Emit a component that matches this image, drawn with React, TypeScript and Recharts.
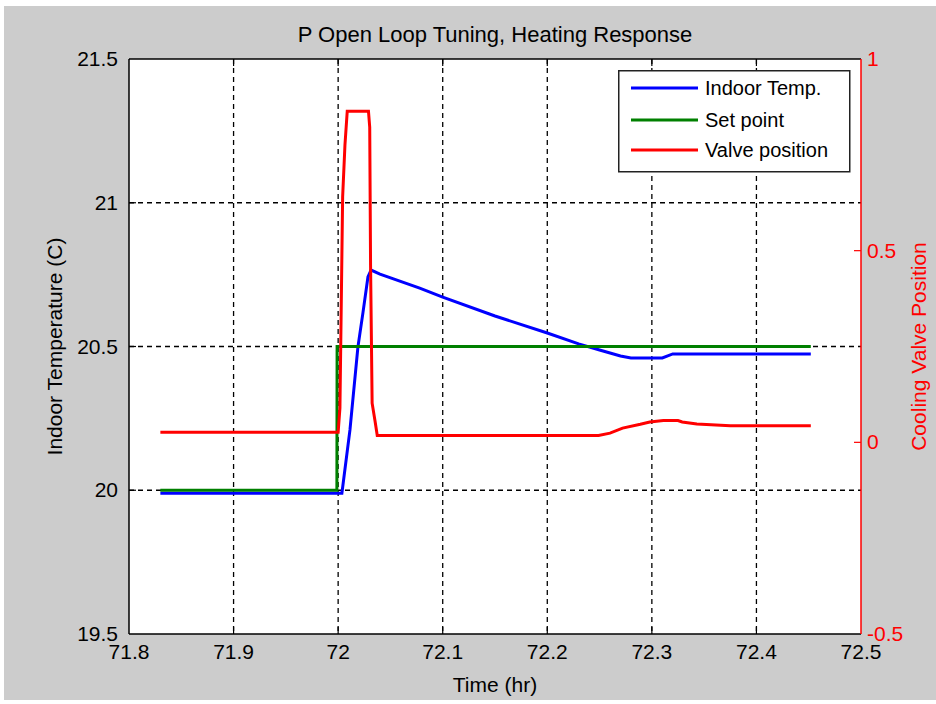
import React from 'react';
import { LineChart, Line, XAxis, YAxis, CartesianGrid, ReferenceLine, Legend } from 'recharts';

// MATLAB-like look: grey figure, white axes, dashed black grid
const FONT = '"Liberation Sans", Arial, Helvetica, sans-serif';
const PLOT_H = 575;

const xTicks = [71.8, 71.9, 72, 72.1, 72.2, 72.3, 72.4, 72.5];
const xGrid = [71.9, 72, 72.1, 72.2, 72.3, 72.4];
const tempTicks = [19.5, 20, 20.5, 21, 21.5];
const tempGrid = [20, 20.5, 21];
const valveTicks = [-0.5, 0, 0.5, 1];

// indoor temperature (C)
const tempTime = [71.83, 72.0036, 72.0113, 72.0189, 72.0237, 72.0285, 72.0315, 72.04, 72.078, 72.1, 72.15, 72.2, 72.23, 72.25, 72.27, 72.28, 72.31, 72.32, 72.452];
const tempValue = [19.99, 19.99, 20.21, 20.498, 20.617, 20.742, 20.766, 20.752, 20.703, 20.672, 20.606, 20.547, 20.509, 20.488, 20.467, 20.46, 20.46, 20.474, 20.474];

// set point (C)
const setTime = [71.83, 71.9988, 71.999, 72.452];
const setValue = [20.0, 20.0, 20.5, 20.5];

// cooling valve position (0..1)
const valveTime = [71.83, 72.0, 72.0017, 72.0043, 72.0065, 72.0087, 72.029, 72.0302, 72.031, 72.0325, 72.0352, 72.0374, 72.249, 72.26, 72.272, 72.289, 72.298, 72.311, 72.325, 72.329, 72.343, 72.375, 72.452];
const valveValue = [0.026, 0.026, 0.089, 0.64, 0.775, 0.864, 0.864, 0.822, 0.462, 0.102, 0.057, 0.018, 0.018, 0.024, 0.037, 0.047, 0.053, 0.057, 0.057, 0.053, 0.048, 0.043, 0.043];

const toRows = (ts: number[], vs: number[]) => ts.map((t, i) => ({ t, v: vs[i] }));
const tempRows = toRows(tempTime, tempValue);
const setRows = toRows(setTime, setValue);
const valveRows = toRows(valveTime, valveValue);

const isEdge = (v: number, lo: number, hi: number) => v === lo || v === hi;

function BottomTick(props: any) {
  const { x, y, payload } = props;
  const edge = isEdge(payload.value, 71.8, 72.5);
  return (
    <g>
      {!edge && <line x1={x} x2={x} y1={y} y2={y - 7} stroke="#000" strokeWidth={1.2} />}
      {!edge && <line x1={x} x2={x} y1={y - PLOT_H} y2={y - PLOT_H + 7} stroke="#000" strokeWidth={1.2} />}
      <text x={x} y={y + 25} textAnchor="middle" fontSize={21} fontFamily={FONT} fill="#000">
        {payload.value}
      </text>
    </g>
  );
}

function LeftTick(props: any) {
  const { x, y, payload } = props;
  const edge = isEdge(payload.value, 19.5, 21.5);
  return (
    <g>
      {!edge && <line x1={x} x2={x + 7} y1={y} y2={y} stroke="#000" strokeWidth={1.2} />}
      <text x={x - 11} y={y + 7} textAnchor="end" fontSize={21} fontFamily={FONT} fill="#000">
        {payload.value}
      </text>
    </g>
  );
}

function RightTick(props: any) {
  const { x, y, payload } = props;
  const edge = isEdge(payload.value, -0.5, 1);
  return (
    <g>
      {!edge && <line x1={x} x2={x - 7} y1={y} y2={y} stroke="#ff0000" strokeWidth={1.2} />}
      <text x={x + 6} y={y + 7} textAnchor="start" fontSize={21} fontFamily={FONT} fill="#ff0000">
        {payload.value}
      </text>
    </g>
  );
}

function LegendBox(props: any) {
  const items = (props.payload || []) as any[];
  const rowY = [18, 50, 80];
  return (
    <svg width={233} height={103} style={{ display: 'block' }}>
      <rect x={0.75} y={0.75} width={231} height={101} fill="#fff" stroke="#222" strokeWidth={1.5} />
      {items.map((it, i) => (
        <g key={it.value}>
          <line x1={13} x2={80} y1={rowY[i]} y2={rowY[i]} stroke={it.color} strokeWidth={3} />
          <text x={87} y={rowY[i] + 7} fontSize={20} fontFamily={FONT} fill="#000">
            {it.value}
          </text>
        </g>
      ))}
    </svg>
  );
}

export default function App() {
  return (
    <div style={{ position: 'relative', width: 936, height: 704, background: '#fff', fontFamily: FONT }}>
      <style>{'body{margin:0}'}</style>
      <div style={{ position: 'absolute', left: 4, top: 6, width: 932, height: 694, background: '#cccccc' }}>
        <div
          style={{
            position: 'absolute', left: 125, top: 16, width: 732, textAlign: 'center',
            fontSize: 22, lineHeight: '25px', color: '#000',
          }}
        >
          P Open Loop Tuning, Heating Response
        </div>
        <LineChart
          width={932}
          height={694}
          margin={{ top: 53, right: 35, bottom: 36, left: 65 }}
          style={{ position: 'absolute', left: 0, top: 0 }}
        >
          <CartesianGrid
            yAxisId="left"
            fill="#fff"
            stroke="#000"
            strokeWidth={1.3}
            strokeDasharray="5 4"
            horizontalValues={tempGrid}
            verticalValues={xGrid}
          />
          <XAxis
            dataKey="t"
            type="number"
            domain={[71.8, 72.5]}
            ticks={xTicks}
            interval={0}
            allowDataOverflow
            height={30}
            tickSize={0}
            tickMargin={0}
            tickLine={false}
            axisLine={{ stroke: '#000', strokeWidth: 1.5 }}
            tick={BottomTick}
            label={{ value: 'Time (hr)', position: 'insideBottom', offset: -28, fontSize: 21, fill: '#000', fontFamily: FONT }}
          />
          <YAxis
            yAxisId="left"
            type="number"
            domain={[19.5, 21.5]}
            ticks={tempTicks}
            interval={0}
            allowDataOverflow
            width={60}
            tickSize={0}
            tickMargin={0}
            tickLine={false}
            axisLine={{ stroke: '#000', strokeWidth: 1.5 }}
            tick={LeftTick}
            label={{ value: 'Indoor Temperature (C)', angle: -90, position: 'center', dx: -44, fontSize: 21, fill: '#000', fontFamily: FONT }}
          />
          <YAxis
            yAxisId="right"
            orientation="right"
            type="number"
            domain={[-0.5, 1]}
            ticks={valveTicks}
            interval={0}
            allowDataOverflow
            width={40}
            tickSize={0}
            tickMargin={0}
            tickLine={false}
            axisLine={{ stroke: '#ff0000', strokeWidth: 1.5 }}
            tick={RightTick}
            label={{ value: 'Cooling Valve Position', angle: -90, position: 'center', dx: 38, fontSize: 21, fill: '#ff0000', fontFamily: FONT }}
          />
          <ReferenceLine yAxisId="left" y={21.5} stroke="#000" strokeWidth={1.5} />
          <Line yAxisId="left" data={tempRows} dataKey="v" name="Indoor Temp." type="linear" stroke="#0000ff" strokeWidth={3} dot={false} isAnimationActive={false} />
          <Line yAxisId="left" data={setRows} dataKey="v" name="Set point" type="linear" stroke="#008000" strokeWidth={3} dot={false} isAnimationActive={false} />
          <Line yAxisId="right" data={valveRows} dataKey="v" name="Valve position" type="linear" stroke="#ff0000" strokeWidth={3} dot={false} isAnimationActive={false} />
          <Legend
            layout="vertical"
            align="center"
            verticalAlign="middle"
            content={LegendBox}
            wrapperStyle={{ left: 614, top: 64, width: 233, height: 103 }}
          />
        </LineChart>
      </div>
    </div>
  );
}
